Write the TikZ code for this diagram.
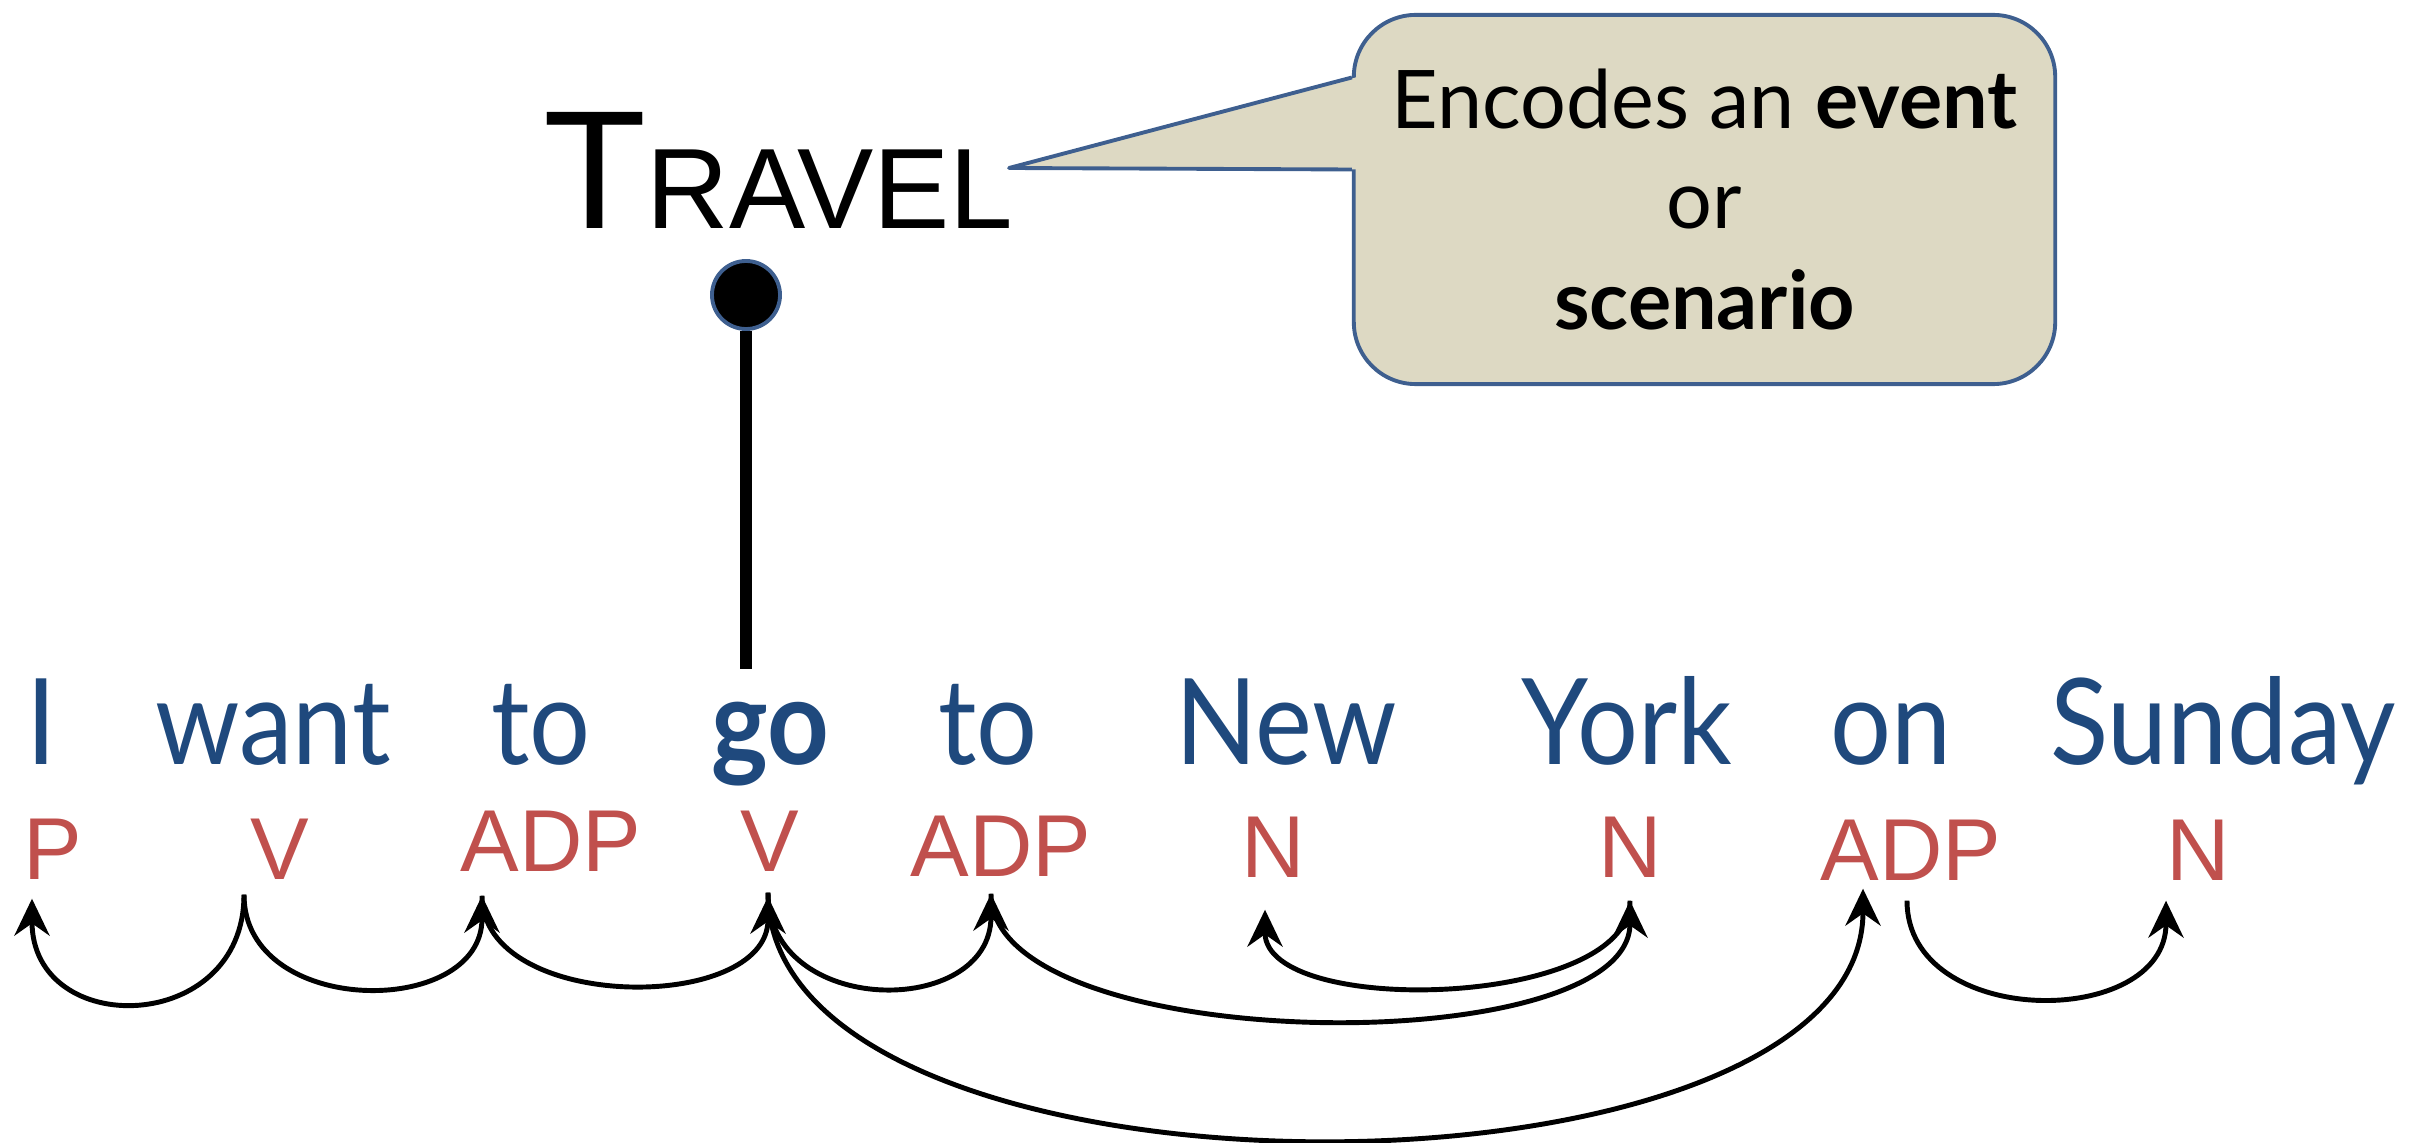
\documentclass[tikz,border=0pt]{standalone}
\usepackage{fontspec}
\usetikzlibrary{arrows.meta,calc}
\newfontfamily\wordfont[FakeStretch=0.9]{Lato}
\newfontfamily\notefont{Lato}
\newfontfamily\tagfont{Liberation Sans}
\definecolor{WordBlue}{HTML}{1F497D}
\definecolor{TagRed}{HTML}{C0504D}
\definecolor{NoteFill}{HTML}{DDD9C3}
\definecolor{NoteLine}{HTML}{3E5F8F}

\begin{document}
\begin{tikzpicture}[x=0.01cm,y=-0.01cm,
  word/.style={anchor=base,inner sep=0pt,text=WordBlue,font=\wordfont\fontsize{34pt}{40pt}\selectfont},
  tag/.style={anchor=base,inner sep=0pt,text=TagRed,font=\tagfont\fontsize{25pt}{30pt}\selectfont},
  dep/.style={-{Stealth[length=10.5pt,width=10pt,inset=3.5pt]},line width=1.4pt},
  note/.style={draw=NoteLine,fill=NoteFill,line width=1.1pt,rounded corners=0.62cm,
    minimum width=7.01cm,minimum height=3.69cm,align=center,
    font=\notefont\fontsize{23pt}{28.7pt}\selectfont}]
\path[use as bounding box] (0,0) rectangle (2430,1143);

% frame label and its anchor dot
\node[anchor=base west,inner sep=0pt] (travel) at (543,229)
  {\tagfont\fontsize{48pt}{48pt}\selectfont T\fontsize{32.5pt}{32.5pt}\selectfont RAVEL};
\node[circle,fill=black,draw=NoteLine,line width=1.1pt,minimum size=0.68cm,inner sep=0pt] (evt) at (746,295) {};
\coordinate (stemend) at (746,669);
\draw[line width=3.4pt] (evt.south) -- (stemend);

% speech bubble
\node[note] (bubble) at (1704.5,199.5) {Encodes an \textbf{event}\\or\\\textbf{scenario}};
\coordinate (ptr) at (1009,168);
\fill[NoteFill] (ptr) -- ($(bubble.west)+(4,-122)$) -- ($(bubble.west)+(4,-30)$) -- cycle;
\draw[NoteLine,line width=1.1pt,line join=round] ($(bubble.west)+(0,-122)$) -- (ptr) -- ($(bubble.west)+(0,-30)$);

% sentence
\node[word] (wI) at (42,764) {I};
\node[word] (wwant) at (273,764) {want};
\node[word] (wto1) at (541,764) {to};
\node[word] (wgo) at (770,764) {\textbf{go}};
\node[word] (wto2) at (988,764) {to};
\node[word] (wnew) at (1286,764) {New};
\node[word] (wyork) at (1627,764) {York};
\node[word] (won) at (1891,764) {on};
\node[word] (wsun) at (2223,764) {Sunday};

% tags
\node[tag] (tP) at (53,879) {P};
\node[tag] (tV1) at (280,879) {V};
\node[tag] (tA1) at (551,871) {ADP};
\node[tag] (tV2) at (770,871) {V};
\node[tag] (tA2) at (1001,876) {ADP};
\node[tag] (tN1) at (1273,877) {N};
\node[tag] (tN2) at (1630,877) {N};
\node[tag] (tA3) at (1911,880) {ADP};
\node[tag] (tN3) at (2198,880) {N};

% arcs
\draw[dep] ($(tV1.south)+(-36,15)$) .. controls +(0,141) and +(0,141) .. ($(tP.south)+(-21,19)$);
\draw[dep] ($(tV1.south)+(-36,15)$) .. controls +(0,123) and +(0,123) .. ($(tA1.south)+(-69,24)$);
\draw[dep] ($(tA1.south)+(-69,24)$) .. controls +(0,117) and +(0,117) .. ($(tV2.south)+(-2,25)$);
\draw[dep] ($(tV2.south)+(-2,21)$) .. controls +(0,125) and +(0,125) .. ($(tA2.south)+(-10,17)$);
\draw[dep] ($(tA2.south)+(-10,17)$) .. controls +(0,163) and +(0,163) .. ($(tN2.south)+(0,23)$);
\draw[dep] ($(tN2.south)+(0,23)$) .. controls +(0,108) and +(0,108) .. ($(tN1.south)+(-8,32)$);
\draw[dep] ($(tV2.south)+(-2,21)$) .. controls +(0,331) and +(0,331) .. ($(tA3.south)+(-48,8)$);
\draw[dep] ($(tA3.south)+(-4,20)$) .. controls +(0,129) and +(0,129) .. ($(tN3.south)+(-32,20)$);
\end{tikzpicture}
\end{document}
